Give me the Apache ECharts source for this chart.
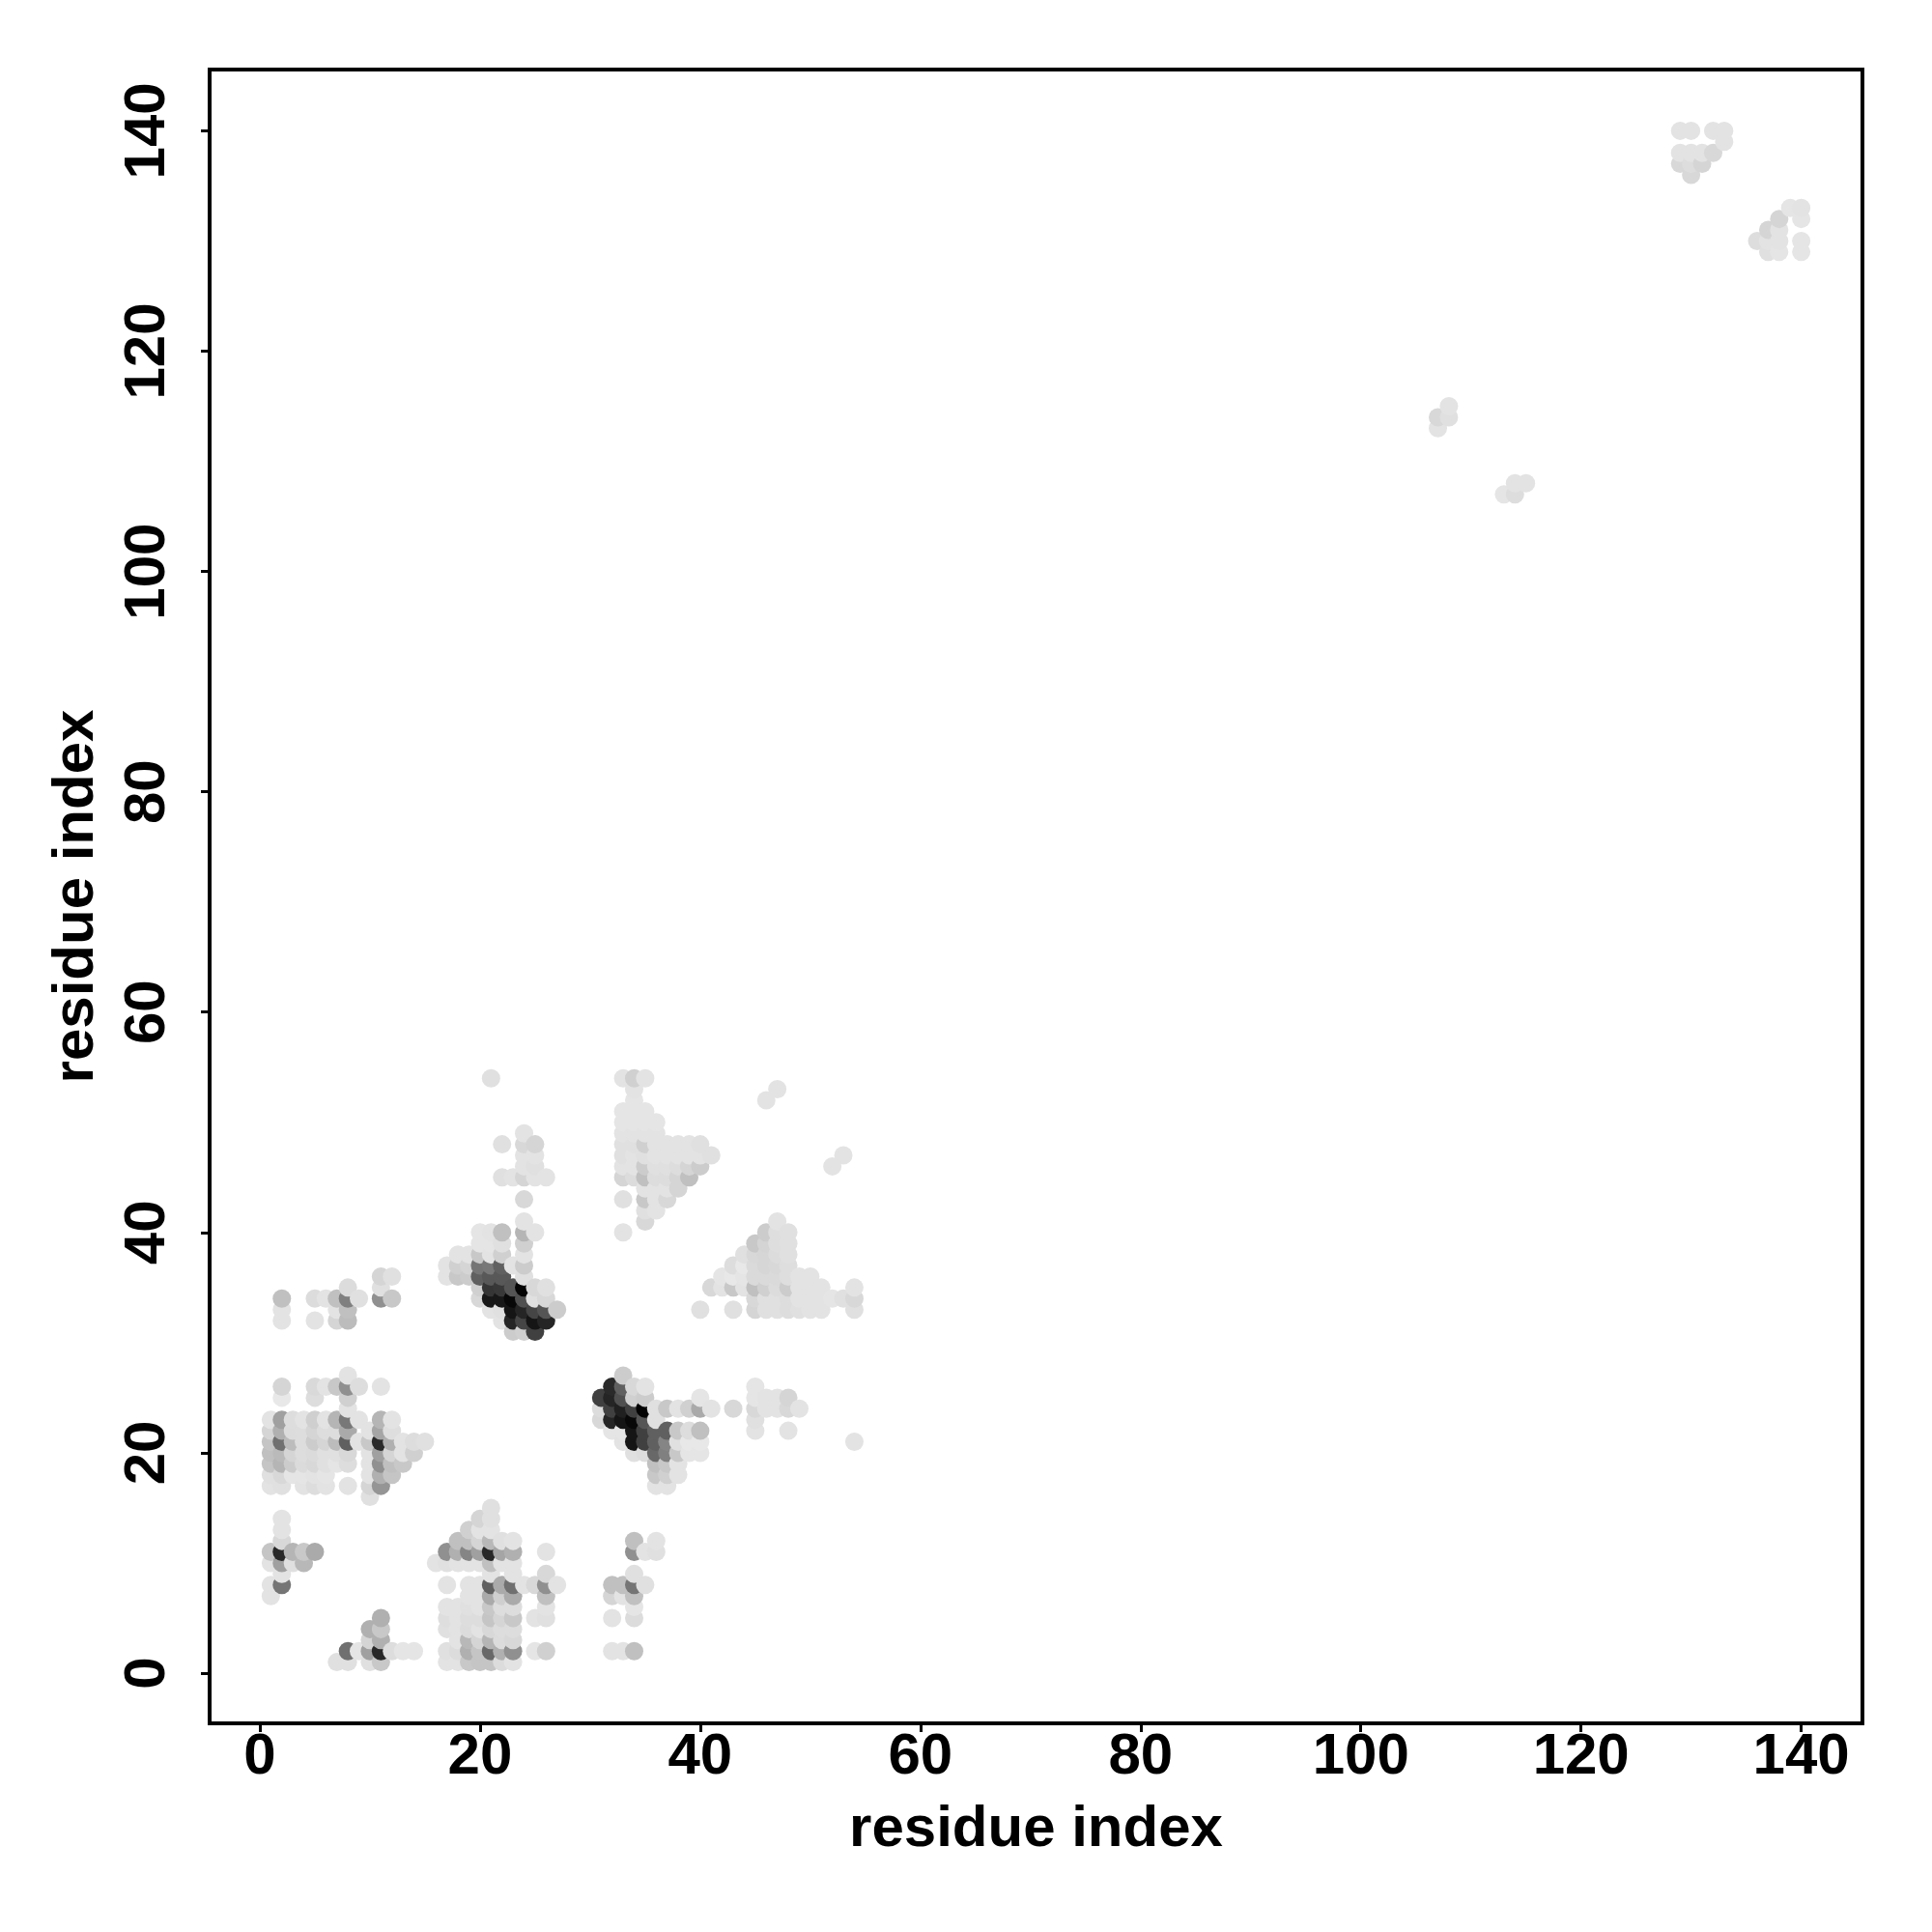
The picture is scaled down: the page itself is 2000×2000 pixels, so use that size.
<!DOCTYPE html>
<html>
<head>
<meta charset="utf-8">
<script src="https://cdn.jsdelivr.net/npm/echarts@6/dist/echarts.min.js"></script>
<style>html,body{margin:0;padding:0;background:#fff}#c{width:2000px;height:2000px}</style>
</head>
<body>
<div id="c"></div>
<script>
var axisTicks = [0,20,40,60,80,100,120,140];
var axisTitle = 'residue index';
var rowResidue = [1,2,3,4,5,6,7,8,9,10,11,12,13,14,15,16,17,18,19,20,21,22,23,24,25,26,27,31,32,33,34,35,36,37,38,39,40,41,42,43,44,45,46,47,48,49,50,51,52,53,54,107,108,113,114,115,129,130,131,132,133,136,137,138,139,140];
var rowPartners = [
[7,8,10,11,17,18,19,20,21,22,23],
[8,9,10,11,12,13,14,17,18,19,20,21,22,23,25,26,32,33,34],
[10,11,18,19,20,21,22,23],
[10,11,17,18,19,20,21,22,23],
[11,17,18,19,20,21,22,23,25,26,32,34],
[17,18,19,20,21,22,23,26,34],
[1,19,20,21,22,23,26,32,33,34],
[1,2,17,19,20,21,22,23,24,25,26,27,32,33,34,35],
[2,21,23,26,34],
[1,2,3,4,16,17,18,19,20,21,22,23],
[1,2,3,4,5,17,18,19,20,21,22,23,26,34,35,36],
[2,18,19,20,21,22,23,34,36],
[2,19,20,21],
[2,20,21],
[21],
[10],
[1,2,4,5,6,8,10,11,36,37],
[1,2,3,4,5,6,10,11,12,36,37,38],
[1,2,3,4,5,6,7,8,10,11,12,13,36,37,38],
[1,2,3,4,5,6,7,8,10,11,12,13,14,34,35,36,37,38,39,40],
[1,2,3,4,5,6,7,8,9,10,11,12,13,14,15,33,34,35,36,37,38,39,40,54],
[1,2,3,4,5,6,7,8,10,11,12,32,33,34,35,36,37,38,39,40,45,48],
[1,2,3,4,5,6,7,8,9,11,12,31,32,33,34,35,36,45],
[8,31,32,33,34,35,36,37,38,39,40,41,43,45,46,47,48,49],
[2,5,8,31,32,33,34,35,40,45,46,47,48],
[2,5,6,7,8,9,11,32,33,34,35,45],
[8,33],
[23,24,25],
[2,5,7,8,22,23,24,25,26],
[2,7,8,21,22,23,24,25,26,27,40,43,45,46,47,48,49,50,51,54],
[2,5,6,7,8,9,11,12,20,21,22,23,24,25,26,45,46,47,48,49,50,51,52,53,54],
[8,11,20,21,22,23,24,25,26,41,42,43,44,45,46,47,48,49,50,51,54],
[11,12,17,18,19,20,21,22,24,42,43,44,45,46,47,48,49,50],
[17,18,19,20,21,22,23,24,43,44,45,46,47,48],
[18,19,20,21,22,24,44,45,46,47,48],
[20,21,22,24,45,46,47,48],
[20,21,22,24,25,33,46,47,48],
[24,35,47],
[35,36],
[24,33,35,36,37],
[35,36,37,38],
[22,23,24,25,26,33,34,35,36,37,38,39],
[24,25,33,34,35,36,37,38,39,40,52],
[24,25,33,34,35,36,37,38,39,40,41,53],
[22,24,25,33,34,35,36,37,38,39,40],
[24,33,34,35,36],
[33,34,35,36],
[33,34,35],
[34,46],
[34,47],
[21,33,34,35],
[113,114],
[114,115],
[107],
[107,108],
[108],
[137,138,140],
[136,137,138,140],
[137,138],
[138,140],
[139,140],
[130],
[129,130,131],
[129,130,131,132],
[133],
[129,130,132,133]
];
var rowShades = [
[224,224,224,200,227,227,200,197,197,220,227],
[112,229,160,40,221,229,229,224,220,176,197,104,176,144,229,208,227,227,192],
[213,176,227,184,213,181,220,216],
[176,200,224,227,220,227,216,221,221],
[176,222,227,221,221,197,213,200,227,224,227,220],
[227,227,224,227,200,221,221,227,229],
[227,227,227,170,207,170,192,213,227,192],
[227,117,227,227,227,96,170,112,227,216,144,227,192,192,117,224],
[227,227,227,216,224],
[227,160,224,184,227,224,227,227,227,192,227,227],
[197,40,181,200,170,144,176,133,160,40,165,176,227,144,227,224],
[216,192,192,213,184,224,227,192,227],
[227,208,227,227],
[227,213,224],
[224],
[224],
[227,224,227,221,227,227,213,149,227,227],
[224,216,229,229,227,229,227,176,197,200,208,227],
[197,181,204,219,216,224,229,221,227,144,192,200,192,200,227],
[192,186,213,221,219,224,224,216,227,160,213,227,208,224,221,104,128,200,229,229],
[197,112,188,221,204,213,188,96,227,200,42,176,227,221,224,227,21,64,96,133,224,232,232,227],
[213,176,220,221,213,221,221,170,227,165,222,229,229,21,64,96,96,200,221,192,227,227],
[227,160,221,227,207,227,181,120,227,181,227,216,37,21,8,85,224,224],
[227,220,64,32,64,2,224,200,227,208,170,227,216,216,227,227,216,227],
[232,221,208,64,37,80,208,204,229,229,227,227,213],
[213,217,227,200,144,221,227,42,96,216,227,229],
[227,204],
[204,208,64],
[227,227,213,188,227,37,69,21,37],
[227,227,192,227,224,21,37,69,85,204,224,224,213,224,224,221,224,227,227,224],
[192,220,227,192,128,224,144,200,216,24,24,8,80,224,216,216,224,224,221,227,227,227,229,224,216],
[220,224,208,53,56,85,5,216,224,216,227,200,227,192,208,220,204,227,227,227,227],
[213,224,227,200,204,96,88,88,224,229,232,229,218,218,218,222,227,227],
[227,208,213,117,120,96,227,204,221,232,218,214,216,222],
[227,227,200,227,208,227,224,216,214,220,224],
[229,229,224,208,200,212,222,224],
[229,227,192,181,227,227,204,222,224],
[227,216,227],
[224,227],
[216,224,200,227,216],
[227,227,227,213],
[224,227,213,227,227,213,220,192,221,221,213,192],
[227,224,227,227,204,224,224,221,213,204,227],
[227,227,224,227,224,227,227,227,227,227,224,227],
[224,216,213,224,224,208,227,227,227,227,224],
[227,227,227,227,227],
[229,229,229,229],
[229,229,229],
[229,227],
[227,227],
[224,227,208,227],
[229,221],
[227,227],
[227],
[216,224],
[227],
[224,229,229],
[221,227,227,229],
[213,227],
[213,229],
[229,227],
[216],
[216,221,213],
[227,227,227,216],
[227],
[227,227,227,227]
];

var points = [];
rowResidue.forEach(function (j, r) {
  rowPartners[r].forEach(function (i, k) {
    points.push([i, j, rowShades[r][k]]);
  });
});
points.sort(function (a, b) { return a[0] - b[0] || a[1] - b[1]; });

var axisBase = {
  type: 'value', min: -4.56, max: 145.56,
  name: axisTitle, nameLocation: 'middle',
  nameTextStyle: { fontFamily: 'Liberation Sans', fontWeight: 'bold', fontSize: 60, color: '#000' },
  axisLine: { show: false, onZero: false },
  splitLine: { show: false },
  axisTick: { show: true, length: 9, customValues: axisTicks, lineStyle: { color: '#000', width: 3 } },
  axisLabel: { show: true, customValues: axisTicks, fontFamily: 'Liberation Sans', fontWeight: 'bold', fontSize: 60, color: '#000' }
};
var xA = JSON.parse(JSON.stringify(axisBase));
xA.nameGap = 80; xA.axisLabel.margin = 5;
var yA = JSON.parse(JSON.stringify(axisBase));
yA.nameGap = 108; yA.axisLabel.margin = 34; yA.axisLabel.rotate = 90;

var chart = echarts.init(document.getElementById('c'), null, { renderer: 'canvas' });
chart.setOption({
  animation: false,
  backgroundColor: '#fff',
  grid: { left: 217, right: 72, top: 72, bottom: 216, show: true, borderColor: '#000', borderWidth: 4, backgroundColor: 'transparent' },
  xAxis: xA,
  yAxis: yA,
  series: [{
    type: 'scatter',
    symbol: 'circle',
    symbolSize: 19,
    large: false,
    silent: true,
    data: points,
    itemStyle: {
      opacity: 1,
      color: function (p) { var g = p.data[2]; return 'rgb(' + g + ',' + g + ',' + g + ')'; }
    }
  }]
});
</script>
</body>
</html>
